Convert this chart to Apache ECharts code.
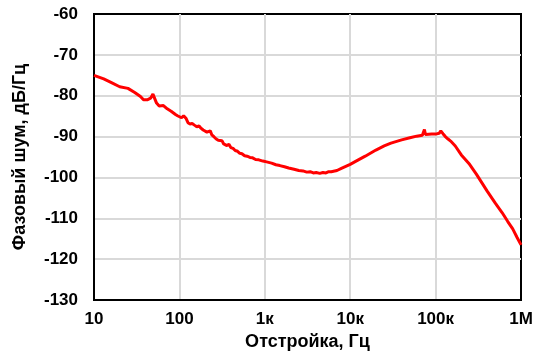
<!DOCTYPE html>
<html>
<head>
<meta charset="utf-8">
<script src="https://cdn.jsdelivr.net/npm/echarts@6/dist/echarts.min.js"></script>
<style>html,body{margin:0;padding:0;background:#fff}#c{width:549px;height:359px}</style>
</head>
<body>
<div id="c"></div>
<script>
const freqHz = [10, 13, 16, 20, 25, 30, 35, 38, 42, 46, 49, 51, 54, 58, 65, 72, 80, 90, 95, 100, 106, 112, 116, 120, 126, 133, 141, 150, 160, 170, 180, 190, 200, 210, 220, 230, 240, 255, 270, 285, 300, 315, 330, 345, 360, 380, 400, 425, 450, 480, 510, 540, 580, 620, 670, 720, 780, 850, 950, 1050, 1200, 1350, 1500, 1700, 1900, 2200, 2500, 2800, 3100, 3400, 3700, 4000, 4400, 4800, 5200, 5600, 6000, 7000, 8000, 10000, 12000, 15000, 20000, 25000, 30000, 40000, 50000, 60000, 70000, 74000, 76000, 80000, 90000, 100000, 110000, 115000, 118000, 122000, 130000, 140000, 150000, 170000, 200000, 250000, 300000, 400000, 500000, 600000, 700000, 800000, 900000, 1000000];
const phaseNoise = [-75.0, -75.9, -76.8, -77.8, -78.2, -79.2, -80.2, -81.0, -81.0, -80.6, -79.6, -80.0, -81.8, -82.5, -82.4, -83.2, -83.8, -84.6, -84.9, -85.2, -85.4, -84.9, -84.7, -85.6, -86.6, -86.9, -86.8, -87.2, -87.6, -87.4, -88.0, -88.4, -88.3, -88.9, -89.0, -88.6, -89.6, -90.1, -90.6, -90.9, -91.3, -91.0, -91.8, -91.4, -92.2, -91.9, -92.7, -92.9, -93.4, -93.6, -94.1, -94.2, -94.7, -94.8, -95.1, -95.2, -95.6, -95.7, -96.0, -96.2, -96.5, -96.9, -97.1, -97.4, -97.7, -98.0, -98.3, -98.4, -98.7, -98.6, -98.9, -98.8, -99.0, -98.8, -98.9, -98.6, -98.6, -98.3, -97.7, -96.8, -95.9, -94.8, -93.3, -92.3, -91.6, -90.8, -90.3, -89.9, -89.7, -88.3, -89.5, -89.5, -89.4, -89.4, -89.2, -88.6, -88.6, -89.3, -90.0, -90.6, -91.1, -92.3, -94.5, -96.8, -99.2, -103.3, -106.3, -108.6, -110.8, -112.6, -114.7, -116.5];
const xTickLabels = {10: '10', 100: '100', 1000: '1к', 10000: '10к', 100000: '100к', 1000000: '1М'};
const xTitle = 'Отстройка, Гц';
const yTitle = 'Фазовый шум, дБ/Гц';

const font = 'Liberation Sans, Arial, sans-serif';
const chart = echarts.init(document.getElementById('c'), null, {renderer: 'canvas'});
chart.setOption({
  animation: false,
  grid: {left: 94, right: 28, top: 14, bottom: 59, show: true, borderColor: '#000', borderWidth: 2, backgroundColor: 'transparent'},
  xAxis: {
    type: 'log', logBase: 10, min: 10, max: 1000000,
    name: xTitle, nameLocation: 'middle', nameGap: 33,
    nameTextStyle: {fontFamily: font, fontWeight: 'bold', fontSize: 18, color: '#000'},
    axisLine: {show: true, lineStyle: {color: '#000', width: 2}},
    axisTick: {show: false},
    splitLine: {show: true, showMinLine: false, showMaxLine: false, lineStyle: {color: '#d9d9d9', width: 2}},
    minorTick: {show: false},
    axisLabel: {margin: 11, fontFamily: font, fontWeight: 'bold', fontSize: 17, color: '#000',
      formatter: v => xTickLabels[Math.round(v)] || ''}
  },
  yAxis: {
    type: 'value', min: -130, max: -60, interval: 10,
    name: yTitle, nameLocation: 'middle', nameGap: 65,
    nameTextStyle: {fontFamily: font, fontWeight: 'bold', fontSize: 18, color: '#000'},
    axisLine: {show: true, lineStyle: {color: '#000', width: 2}},
    axisTick: {show: false},
    splitLine: {show: true, showMinLine: false, showMaxLine: false, lineStyle: {color: '#d9d9d9', width: 2}},
    axisLabel: {margin: 16, fontFamily: font, fontWeight: 'bold', fontSize: 17, color: '#000'}
  },
  series: [{
    type: 'line',
    data: freqHz.map((f, i) => [f, phaseNoise[i]]),
    showSymbol: false,
    smooth: false,
    lineStyle: {color: '#ff0000', width: 3},
    itemStyle: {color: '#ff0000'}
  }]
});
</script>
</body>
</html>
